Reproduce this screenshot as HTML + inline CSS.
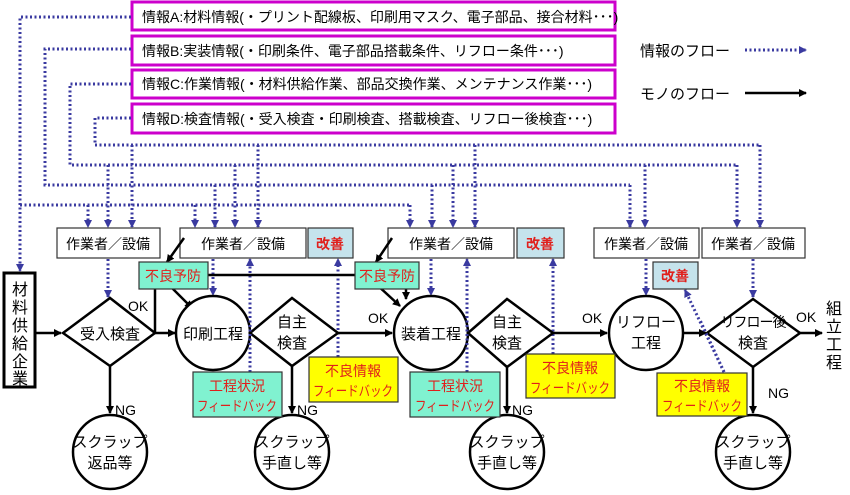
<!DOCTYPE html>
<html><head><meta charset="utf-8"><style>
html,body{margin:0;padding:0;background:#fff;}
svg{display:block;}
text{font-family:"Liberation Sans","Noto Sans CJK JP",sans-serif;}
</style></head><body>
<svg width="850" height="495" viewBox="0 0 850 495" xmlns="http://www.w3.org/2000/svg">
<defs>
<marker id="bk" markerWidth="8" markerHeight="8" refX="7" refY="4" orient="auto" markerUnits="userSpaceOnUse"><path d="M0,0 L8,4 L0,8 z" fill="#000"/></marker>
<marker id="bl" markerWidth="8" markerHeight="8" refX="7" refY="4" orient="auto" markerUnits="userSpaceOnUse"><path d="M0,0 L8,4 L0,8 z" fill="#3a3aa0"/></marker>
</defs>
<g fill="#fff" stroke="#cc00cc" stroke-width="3">
<rect x="132" y="2" width="483" height="28"/>
<rect x="132" y="36" width="483" height="29"/>
<rect x="132" y="70" width="483" height="28"/>
<rect x="132" y="104" width="483" height="29"/>
</g>
<g font-size="14" fill="#000">
<text x="142" y="22">情報A:材料情報(・プリント配線板、印刷用マスク、電子部品、接合材料･･･)</text>
<text x="142" y="56">情報B:実装情報(・印刷条件、電子部品搭載条件、リフロー条件･･･)</text>
<text x="142" y="89">情報C:作業情報(・材料供給作業、部品交換作業、メンテナンス作業･･･)</text>
<text x="142" y="124">情報D:検査情報(・受入検査・印刷検査、搭載検査、リフロー後検査･･･)</text>
</g>
<text x="640" y="56" font-size="15">情報のフロー</text>
<text x="640" y="99" font-size="15">モノのフロー</text>
<g fill="none" stroke="#3a3aa0" stroke-width="3" stroke-dasharray="2 2.5">
<line x1="745" y1="50" x2="806" y2="50" marker-end="url(#bl)"/>
<polyline points="131,17 20,17 20,271" marker-end="url(#bl)"/>
<polyline points="20,205 410,205"/>
<polyline points="131,49 45,49 45,185 630,185"/>
<polyline points="131,84 70,84 70,165 737,165"/>
<polyline points="131,118 95,118 95,145 760,145"/>
<line x1="88" y1="205" x2="88" y2="227" marker-end="url(#bl)"/>
<line x1="108" y1="165" x2="108" y2="227" marker-end="url(#bl)"/>
<line x1="132" y1="145" x2="132" y2="227" marker-end="url(#bl)"/>
<line x1="195" y1="205" x2="195" y2="227" marker-end="url(#bl)"/>
<line x1="215" y1="185" x2="215" y2="227" marker-end="url(#bl)"/>
<line x1="235" y1="165" x2="235" y2="227" marker-end="url(#bl)"/>
<line x1="258" y1="145" x2="258" y2="227" marker-end="url(#bl)"/>
<line x1="410" y1="205" x2="410" y2="227" marker-end="url(#bl)"/>
<line x1="432" y1="185" x2="432" y2="227" marker-end="url(#bl)"/>
<line x1="453" y1="165" x2="453" y2="227" marker-end="url(#bl)"/>
<line x1="475" y1="145" x2="475" y2="227" marker-end="url(#bl)"/>
<line x1="630" y1="185" x2="630" y2="227" marker-end="url(#bl)"/>
<line x1="645" y1="165" x2="645" y2="227" marker-end="url(#bl)"/>
<line x1="737" y1="165" x2="737" y2="227" marker-end="url(#bl)"/>
<line x1="760" y1="145" x2="760" y2="227" marker-end="url(#bl)"/>
<line x1="108" y1="259" x2="108" y2="297" marker-end="url(#bl)"/>
<line x1="213" y1="259" x2="213" y2="295" marker-end="url(#bl)"/>
<line x1="431" y1="259" x2="431" y2="295" marker-end="url(#bl)"/>
<line x1="646" y1="259" x2="646" y2="295" marker-end="url(#bl)"/>
<line x1="753" y1="259" x2="753" y2="297" marker-end="url(#bl)"/>
<line x1="250" y1="372" x2="250" y2="259" marker-end="url(#bl)"/>
<line x1="338" y1="357" x2="338" y2="259" marker-end="url(#bl)"/>
<line x1="467" y1="372" x2="467" y2="259" marker-end="url(#bl)"/>
<line x1="553" y1="354" x2="553" y2="259" marker-end="url(#bl)"/>
<line x1="724" y1="372" x2="685" y2="290" marker-end="url(#bl)"/>
</g>
<line x1="745" y1="93" x2="806" y2="93" stroke="#000" stroke-width="2.5" marker-end="url(#bk)"/>
<g fill="#fff" stroke="#333" stroke-width="1.2">
<rect x="57" y="228" width="103" height="30"/>
<rect x="180" y="228" width="126" height="30"/>
<rect x="388" y="228" width="126" height="30"/>
<rect x="594" y="228" width="105" height="30"/>
<rect x="702" y="228" width="103" height="30"/>
</g>
<g fill="#c5e3ec" stroke="#333" stroke-width="1.2">
<rect x="308" y="228" width="45" height="30"/>
<rect x="517" y="228" width="47" height="30"/>
<rect x="653" y="262" width="45" height="27"/>
</g>
<g font-size="14" text-anchor="middle">
<text x="108" y="249">作業者／設備</text>
<text x="243" y="249">作業者／設備</text>
<text x="451" y="249">作業者／設備</text>
<text x="646" y="249">作業者／設備</text>
<text x="753" y="249">作業者／設備</text>
</g>
<g font-size="14" text-anchor="middle" fill="#e0201c" font-weight="bold">
<text x="330" y="249">改善</text>
<text x="540" y="249">改善</text>
<text x="675" y="281">改善</text>
</g>
<g stroke="#000" stroke-width="2.5" fill="none">
<line x1="35" y1="333" x2="61" y2="333" marker-end="url(#bk)"/>
<line x1="155" y1="333" x2="175" y2="333" marker-end="url(#bk)"/>
<line x1="155" y1="289" x2="155" y2="333"/>
<line x1="208" y1="275" x2="355" y2="275"/>
<line x1="338" y1="333" x2="392" y2="333" marker-end="url(#bk)"/>
<line x1="553" y1="333" x2="607" y2="333" marker-end="url(#bk)"/>
<line x1="683" y1="333" x2="706" y2="333" marker-end="url(#bk)"/>
<line x1="800" y1="333" x2="822" y2="333" marker-end="url(#bk)"/>
<line x1="110" y1="366" x2="110" y2="413" marker-end="url(#bk)"/>
<line x1="292" y1="366" x2="292" y2="413" marker-end="url(#bk)"/>
<line x1="507" y1="367" x2="507" y2="413" marker-end="url(#bk)"/>
<line x1="753" y1="367" x2="753" y2="413" marker-end="url(#bk)"/>
<line x1="184" y1="238" x2="167" y2="262" marker-end="url(#bk)"/>
<line x1="392" y1="238" x2="376" y2="262" marker-end="url(#bk)"/>
<line x1="168" y1="284" x2="192" y2="308" marker-end="url(#bk)"/>
<line x1="376" y1="284" x2="400" y2="306" marker-end="url(#bk)"/>
<line x1="406" y1="288" x2="406" y2="299" marker-end="url(#bk)"/>
</g>
<rect x="4" y="273" width="31" height="114" fill="#fff" stroke="#000" stroke-width="3"/>
<g font-size="16" text-anchor="middle">
<text x="20" y="295">材</text><text x="20" y="313">料</text><text x="20" y="331">供</text>
<text x="20" y="349">給</text><text x="20" y="367">企</text><text x="20" y="384">業</text>
</g>
<g fill="#fff" stroke="#000" stroke-width="2.5">
<polygon points="63,333 110,298 155,333 110,366"/>
<circle cx="213" cy="333" r="37"/>
<polygon points="250,333 292,298 338,333 292,366"/>
<circle cx="431" cy="333" r="37"/>
<polygon points="468,333 507,299 553,333 507,367"/>
<circle cx="646" cy="333" r="37"/>
<polygon points="707,333 753,299 800,333 753,367"/>
<circle cx="110" cy="452" r="37"/>
<circle cx="292" cy="452" r="37"/>
<circle cx="507" cy="452" r="37"/>
<circle cx="753" cy="452" r="37"/>
</g>
<g fill="none" stroke="#3a3aa0" stroke-width="3" stroke-dasharray="2 2.5">
<line x1="250" y1="372" x2="250" y2="300"/>
<line x1="467" y1="372" x2="467" y2="300"/>
<line x1="724" y1="372" x2="700" y2="320"/>
</g>
<g font-size="15" text-anchor="middle">
<text x="110" y="339">受入検査</text>
<text x="213" y="339">印刷工程</text>
<text x="292" y="327">自主</text><text x="292" y="348">検査</text>
<text x="431" y="339">装着工程</text>
<text x="507" y="327">自主</text><text x="507" y="348">検査</text>
<text x="646" y="327">リフロー</text><text x="646" y="348">工程</text>
<text x="753" y="327" font-size="14" letter-spacing="-1">リフロー後</text><text x="753" y="348">検査</text>
<text x="110" y="447">スクラップ</text><text x="110" y="468">返品等</text>
<text x="292" y="447">スクラップ</text><text x="292" y="468">手直し等</text>
<text x="507" y="447">スクラップ</text><text x="507" y="468">手直し等</text>
<text x="753" y="447">スクラップ</text><text x="753" y="468">手直し等</text>
</g>
<g font-size="14">
<text x="128" y="311">OK</text>
<text x="368" y="323">OK</text>
<text x="582" y="323">OK</text>
<text x="796" y="322">OK</text>
<text x="115" y="415">NG</text>
<text x="297" y="415">NG</text>
<text x="512" y="415">NG</text>
<text x="768" y="398">NG</text>
</g>
<g font-size="16" text-anchor="middle">
<text x="834" y="314">組</text><text x="834" y="332">立</text><text x="834" y="350">工</text><text x="834" y="368">程</text>
</g>
<g fill="#80f2d0" stroke="#333" stroke-width="1.2">
<rect x="139" y="262" width="69" height="27"/>
<rect x="355" y="262" width="64" height="27"/>
<rect x="193" y="372" width="89" height="45"/>
<rect x="410" y="372" width="90" height="45"/>
</g>
<g fill="#ffff00" stroke="#333" stroke-width="1.2">
<rect x="309" y="357" width="89" height="45"/>
<rect x="526" y="354" width="89" height="44"/>
<rect x="657" y="373" width="90" height="43"/>
</g>
<g font-size="14" text-anchor="middle" fill="#e0201c">
<text x="173" y="281">不良予防</text>
<text x="387" y="281">不良予防</text>
<text x="237" y="391">工程状況</text><text x="237" y="411" textLength="80" lengthAdjust="spacingAndGlyphs">フィードバック</text>
<text x="455" y="391">工程状況</text><text x="455" y="411" textLength="80" lengthAdjust="spacingAndGlyphs">フィードバック</text>
<text x="353" y="376">不良情報</text><text x="353" y="396" textLength="80" lengthAdjust="spacingAndGlyphs">フィードバック</text>
<text x="570" y="373">不良情報</text><text x="570" y="393" textLength="80" lengthAdjust="spacingAndGlyphs">フィードバック</text>
<text x="702" y="391">不良情報</text><text x="702" y="411" textLength="80" lengthAdjust="spacingAndGlyphs">フィードバック</text>
</g>
</svg>
</body></html>
